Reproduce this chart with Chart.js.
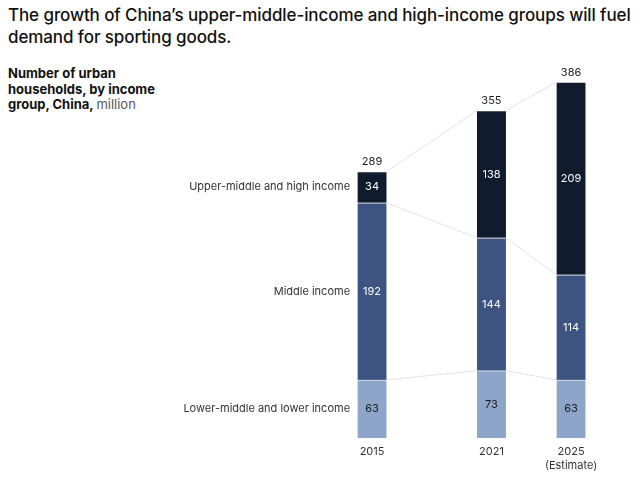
<!DOCTYPE html>
<html>
<head>
<meta charset="utf-8">
<script src="https://cdn.jsdelivr.net/npm/chart.js@4/dist/chart.umd.min.js"></script>
<style>
  html, body { margin: 0; padding: 0; background: #fff; }
  #wrap { position: relative; width: 640px; height: 477px; overflow: hidden; }
  #title { position: absolute; left: 8px; top: 4px; width: 630px; font-family: Inter, "Open Sans", sans-serif; font-weight: 500; font-size: 17px; line-height: 22px; color: #111; letter-spacing: -0.1px; }
  #sub { position: absolute; left: 8px; top: 66px; width: 160px; font-family: Inter, "Open Sans", sans-serif; font-weight: 700; font-size: 13px; line-height: 15.5px; color: #111; }
  #sub span { font-weight: 400; color: #555; }
  canvas { position: absolute; left: 0; top: 0; }
</style>
</head>
<body>
<div id="wrap">
  <div id="title">The growth of China’s upper-middle-income and high-income groups will fuel demand for sporting goods.</div>
  <div id="sub">Number of urban households, by income group, China, <span>million</span></div>
  <canvas id="c" width="640" height="477"></canvas>
</div>
<script>
const years = [2015, 2021, 2025];
const yearLabels = [["2015"], ["2021"], ["2025", "(Estimate)"]];
const groupNames = ["Lower-middle and lower income", "Middle income", "Upper-middle and high income"];
const lowerIncome = [63, 73, 63];
const middleIncome = [192, 144, 114];
const upperIncome = [34, 138, 209];
const totals = [289, 355, 386];

const colors = ["#8da5c8", "#3d5381", "#101c2d"];
const labelColors = ["#1a1a1a", "#ffffff", "#ffffff"];
const seriesValues = [lowerIncome, middleIncome, upperIncome];

const datasets = seriesValues.map((vals, i) => ({
  label: groupNames[i],
  data: years.map((y, j) => ({ x: y, y: vals[j] })),
  backgroundColor: colors[i],
  borderColor: "rgba(255,255,255,0.55)",
  borderWidth: { top: 1, bottom: 0, left: 0, right: 0 },
  borderSkipped: false,
  barThickness: 29
}));

const FONT = "Inter, 'Open Sans', sans-serif";

const annot = {
  id: "annot",
  beforeDatasetsDraw(chart) {
    const ctx = chart.ctx;
    const xs = chart.scales.x, ys = chart.scales.y;
    ctx.save();
    ctx.strokeStyle = "#e3e3e3";
    ctx.lineWidth = 1;
    for (let s = 0; s < seriesValues.length; s++) {
      for (let j = 0; j < years.length - 1; j++) {
        let c0 = 0, c1 = 0;
        for (let k = 0; k <= s; k++) { c0 += seriesValues[k][j]; c1 += seriesValues[k][j + 1]; }
        const x0 = xs.getPixelForValue(years[j]) + 14.5;
        const x1 = xs.getPixelForValue(years[j + 1]) - 14.5;
        ctx.beginPath();
        ctx.moveTo(x0, ys.getPixelForValue(c0));
        ctx.lineTo(x1, ys.getPixelForValue(c1));
        ctx.stroke();
      }
    }
    ctx.restore();
  },
  afterDatasetsDraw(chart) {
    const ctx = chart.ctx;
    const xs = chart.scales.x, ys = chart.scales.y;
    ctx.save();
    ctx.font = "11px " + FONT;
    ctx.textAlign = "center";
    ctx.textBaseline = "middle";
    for (let j = 0; j < years.length; j++) {
      const x = xs.getPixelForValue(years[j]);
      let base = 0;
      for (let s = 0; s < seriesValues.length; s++) {
        const v = seriesValues[s][j];
        const mid = ys.getPixelForValue(base + v / 2);
        ctx.fillStyle = labelColors[s];
        ctx.fillText(String(v), x, mid);
        base += v;
      }
      ctx.fillStyle = "#1a1a1a";
      ctx.textBaseline = "bottom";
      ctx.fillText(String(totals[j]), x, ys.getPixelForValue(base) - 4);
      ctx.textBaseline = "middle";
      ctx.fillStyle = "#333";
      yearLabels[j].forEach((t, li) => ctx.fillText(t, x, ys.getPixelForValue(0) + 14 + li * 14));
    }
    ctx.textAlign = "right";
    ctx.fillStyle = "#333";
    let base = 0;
    const xl = xs.getPixelForValue(years[0]) - 22;
    for (let s = 0; s < seriesValues.length; s++) {
      const v = seriesValues[s][0];
      ctx.fillText(groupNames[s], xl, ys.getPixelForValue(base + v / 2));
      base += v;
    }
    ctx.restore();
  }
};

new Chart(document.getElementById("c"), {
  type: "bar",
  data: { datasets },
  options: {
    responsive: false,
    animation: false,
    events: [],
    layout: { padding: { left: 300, right: 20, top: 82, bottom: 39 } },
    plugins: { legend: { display: false }, tooltip: { enabled: false }, title: { display: false } },
    scales: {
      x: { type: "linear", stacked: true, display: false, offset: false, bounds: "ticks", min: 2011.38, max: 2027.46 },
      y: { stacked: true, display: false, min: 0, max: 386 }
    }
  },
  plugins: [annot]
});
</script>
</body>
</html>
